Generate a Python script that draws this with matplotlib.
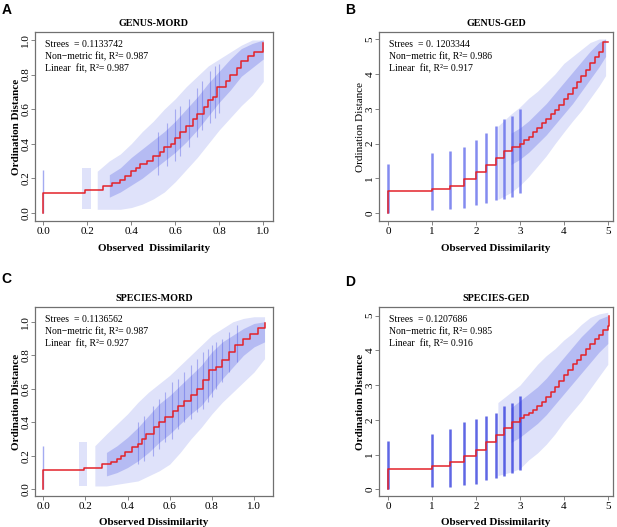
import matplotlib
matplotlib.use("Agg")
import matplotlib.pyplot as plt

plt.rcParams['font.family'] = ['Liberation Serif', 'DejaVu Serif']

# ---- panel A : GENUS-MORD ----
A_step_x = [0, 0.19, 0.27, 0.31, 0.35, 0.37, 0.40, 0.42, 0.44, 0.47, 0.50, 0.53, 0.55, 0.58, 0.60,
            0.62, 0.65, 0.68, 0.70, 0.73, 0.75, 0.77, 0.79, 0.83, 0.85, 0.88, 0.90, 0.93, 0.96, 1.00]
A_step_y = [0.115, 0.13, 0.155, 0.17, 0.19, 0.21, 0.24, 0.26, 0.28, 0.30, 0.33, 0.35, 0.38, 0.40, 0.43,
            0.47, 0.50, 0.54, 0.57, 0.61, 0.65, 0.67, 0.73, 0.76, 0.80, 0.84, 0.88, 0.91, 0.93, 0.98]
A_band_x = [0.245, 0.30, 0.35, 0.40, 0.45, 0.50, 0.55, 0.60, 0.65, 0.70, 0.75, 0.80, 0.85, 0.90, 0.95, 1.00]
A_band_lo = [0.02, 0.02, 0.02, 0.03, 0.05, 0.08, 0.12, 0.18, 0.25, 0.32, 0.40, 0.48, 0.55, 0.62, 0.68, 0.76]
A_band_hi = [0.24, 0.30, 0.34, 0.40, 0.47, 0.53, 0.60, 0.66, 0.73, 0.79, 0.85, 0.89, 0.93, 0.97, 1.00, 1.00]
A_core_x = [0.30, 0.35, 0.40, 0.45, 0.50, 0.55, 0.60, 0.65, 0.70, 0.75, 0.80, 0.85, 0.90, 0.95, 1.00]
A_core_lo = [0.09, 0.12, 0.16, 0.20, 0.25, 0.30, 0.35, 0.41, 0.48, 0.56, 0.64, 0.71, 0.79, 0.84, 0.89]
A_core_hi = [0.22, 0.26, 0.32, 0.37, 0.42, 0.47, 0.53, 0.60, 0.67, 0.75, 0.82, 0.89, 0.95, 0.98, 1.00]
A_clump_x = [0.175, 0.215]
A_clump_lo = [0.02, 0.02]
A_clump_hi = [0.26, 0.26]
A_zero_hi = 0.25
A_streak_x = [0.52, 0.56, 0.60, 0.62, 0.66, 0.70, 0.72, 0.76, 0.78, 0.80]
A_streak_lo = [0.22, 0.27, 0.30, 0.33, 0.38, 0.44, 0.48, 0.52, 0.55, 0.58]
A_streak_hi = [0.47, 0.52, 0.60, 0.62, 0.66, 0.72, 0.76, 0.82, 0.85, 0.86]
A_text = ["Strees  = 0.1133742", "Non\u2212metric fit, R\u00b2= 0.987", "Linear  fit, R\u00b2= 0.987"]

# ---- panel C : SPECIES-MORD ----
C_step_x = [0, 0.195, 0.255, 0.28, 0.32, 0.35, 0.37, 0.39, 0.42, 0.45, 0.47, 0.49, 0.525, 0.55, 0.58,
            0.615, 0.64, 0.67, 0.70, 0.73, 0.76, 0.785, 0.82, 0.85, 0.88, 0.91, 0.95, 0.98, 1.02, 1.05]
C_step_y = [0.113, 0.125, 0.13, 0.15, 0.165, 0.18, 0.20, 0.22, 0.25, 0.27, 0.30, 0.33, 0.37, 0.40, 0.43,
            0.47, 0.50, 0.53, 0.56, 0.60, 0.65, 0.71, 0.73, 0.77, 0.82, 0.86, 0.90, 0.93, 0.96, 0.99]
C_band_x = [0.245, 0.30, 0.35, 0.40, 0.45, 0.50, 0.55, 0.60, 0.65, 0.70, 0.75, 0.80, 0.85, 0.90, 0.95, 1.00, 1.05]
C_band_lo = [0.02, 0.02, 0.03, 0.04, 0.05, 0.08, 0.11, 0.15, 0.22, 0.30, 0.37, 0.45, 0.52, 0.58, 0.64, 0.70, 0.78]
C_band_hi = [0.26, 0.33, 0.39, 0.45, 0.52, 0.58, 0.63, 0.68, 0.74, 0.80, 0.86, 0.92, 0.96, 1.00, 1.02, 1.03, 1.03]
C_core_x = [0.30, 0.35, 0.40, 0.45, 0.50, 0.55, 0.60, 0.65, 0.70, 0.75, 0.80, 0.85, 0.90, 0.95, 1.00, 1.05]
C_core_lo = [0.08, 0.10, 0.13, 0.17, 0.22, 0.28, 0.33, 0.39, 0.45, 0.50, 0.58, 0.66, 0.73, 0.80, 0.85, 0.88]
C_core_hi = [0.22, 0.26, 0.31, 0.37, 0.44, 0.51, 0.56, 0.62, 0.68, 0.74, 0.82, 0.88, 0.92, 0.96, 0.99, 1.00]
C_clump_x = [0.17, 0.21]
C_clump_lo = [0.02, 0.02]
C_clump_hi = [0.28, 0.28]
C_zero_hi = 0.26
C_streak_x = [0.45, 0.48, 0.52, 0.55, 0.58, 0.61, 0.64, 0.67, 0.70, 0.73, 0.76, 0.78, 0.80, 0.82, 0.85, 0.88, 0.92]
C_streak_lo = [0.15, 0.17, 0.20, 0.24, 0.28, 0.30, 0.36, 0.40, 0.42, 0.46, 0.48, 0.52, 0.55, 0.60, 0.64, 0.70, 0.76]
C_streak_hi = [0.40, 0.44, 0.50, 0.54, 0.58, 0.64, 0.66, 0.70, 0.74, 0.78, 0.82, 0.84, 0.86, 0.88, 0.90, 0.94, 0.98]
C_text = ["Strees  = 0.1136562", "Non\u2212metric fit, R\u00b2= 0.987", "Linear  fit, R\u00b2= 0.927"]

# ---- panel B : GENUS-GED ----
B_step_x = [0, 1.0, 1.41, 1.73, 2.0, 2.24, 2.45, 2.65, 2.83, 3.0, 3.1, 3.2, 3.3, 3.4, 3.5,
            3.6, 3.7, 3.8, 3.9, 4.0, 4.1, 4.2, 4.3, 4.4, 4.5, 4.6, 4.7, 4.8, 4.89, 5.01]
B_step_y = [0.63, 0.70, 0.78, 0.99, 1.18, 1.39, 1.59, 1.78, 1.90, 2.0, 2.1, 2.2, 2.32, 2.45, 2.58,
            2.7, 2.84, 2.97, 3.12, 3.27, 3.43, 3.6, 3.78, 3.95, 4.12, 4.3, 4.48, 4.62, 4.91, 4.91]
B_stripe_x = [0, 1.0, 1.41, 1.73, 2.0, 2.24, 2.45, 2.65, 2.83, 3.0]
B_stripe_lo = [0.0, 0.1, 0.12, 0.14, 0.24, 0.3, 0.38, 0.42, 0.48, 0.57]
B_stripe_hi = [1.42, 1.72, 1.8, 1.9, 2.1, 2.3, 2.5, 2.7, 2.8, 3.0]
B_band_x = [2.5, 2.8, 3.0, 3.2, 3.4, 3.6, 3.8, 4.0, 4.2, 4.4, 4.6, 4.8, 4.95]
B_band_lo = [0.4, 0.6, 0.8, 1.05, 1.35, 1.65, 2.0, 2.33, 2.65, 2.95, 3.3, 3.65, 3.95]
B_band_hi = [2.5, 2.85, 3.05, 3.3, 3.5, 3.75, 4.0, 4.3, 4.5, 4.7, 4.9, 5.0, 5.0]
B_core_x = [2.8, 3.0, 3.2, 3.4, 3.6, 3.8, 4.0, 4.2, 4.4, 4.6, 4.8, 4.95]
B_core_lo = [1.4, 1.55, 1.75, 2.0, 2.25, 2.55, 2.85, 3.15, 3.5, 3.85, 4.2, 4.5]
B_core_hi = [2.3, 2.45, 2.65, 2.9, 3.15, 3.45, 3.75, 4.05, 4.35, 4.65, 4.9, 5.0]
B_text = ["Strees  = 0. 1203344", "Non\u2212metric fit, R\u00b2= 0.986", "Linear  fit, R\u00b2= 0.917"]

# ---- panel D : SPECIES-GED ----
D_step_x = [0, 1.0, 1.41, 1.73, 2.0, 2.24, 2.45, 2.65, 2.83, 3.0, 3.1, 3.2, 3.3, 3.4, 3.5, 3.6,
            3.7, 3.8, 3.9, 4.0, 4.1, 4.2, 4.3, 4.4, 4.5, 4.6, 4.7, 4.8, 4.9, 5.0, 5.02]
D_step_y = [0.59, 0.66, 0.79, 0.96, 1.14, 1.36, 1.58, 1.78, 1.94, 2.05, 2.13, 2.2, 2.3, 2.4, 2.52, 2.65,
            2.8, 2.96, 3.12, 3.28, 3.45, 3.6, 3.73, 3.88, 4.05, 4.2, 4.33, 4.45, 4.58, 4.7, 4.98]
D_stripe_x = [0, 1.0, 1.41, 1.73, 2.0, 2.24, 2.45, 2.65, 2.83, 3.0]
D_stripe_lo = [0.0, 0.07, 0.07, 0.12, 0.17, 0.27, 0.32, 0.4, 0.46, 0.55]
D_stripe_hi = [1.4, 1.6, 1.75, 1.95, 2.04, 2.1, 2.2, 2.4, 2.5, 2.7]
D_band_x = [2.5, 2.8, 3.0, 3.2, 3.4, 3.6, 3.8, 4.0, 4.2, 4.4, 4.6, 4.8, 5.0]
D_band_lo = [0.4, 0.5, 0.6, 0.85, 1.05, 1.3, 1.6, 1.95, 2.25, 2.55, 2.9, 3.25, 3.6]
D_band_hi = [2.5, 2.8, 3.0, 3.3, 3.6, 3.85, 4.05, 4.3, 4.5, 4.75, 4.95, 5.05, 5.1]
D_core_x = [2.8, 3.0, 3.2, 3.4, 3.6, 3.8, 4.0, 4.2, 4.4, 4.6, 4.8, 5.0]
D_core_lo = [1.35, 1.5, 1.7, 1.9, 2.15, 2.45, 2.75, 3.05, 3.35, 3.65, 3.95, 4.2]
D_core_hi = [2.35, 2.55, 2.75, 2.95, 3.2, 3.5, 3.8, 4.1, 4.4, 4.65, 4.9, 5.0]
D_text = ["Strees  = 0.1207686", "Non\u2212metric fit, R\u00b2= 0.985", "Linear  fit, R\u00b2= 0.916"]

mord_ticks = [0.0, 0.2, 0.4, 0.6, 0.8, 1.0]
ged_ticks = [0, 1, 2, 3, 4, 5]

RED = '#e3222a'
LIGHT = '#dfe2fa'
MID = '#a4abf1'
DARK = '#3c46e2'
FRAME = '#707070'


def style_axes(ax, title, ticks, ticklabels, xlabel, ylab_bold, xpad):
    ax.set_xticks(ticks)
    ax.set_xticklabels(ticklabels)
    ax.set_yticks(ticks)
    ax.set_yticklabels(ticklabels, rotation=90, va='center')
    ax.tick_params(length=3, width=0.6, color=FRAME, labelsize=8, pad=1.5)
    ax.tick_params(axis='y', pad=0.3)
    for sp in ax.spines.values():
        sp.set_color(FRAME)
        sp.set_linewidth(0.9)
    ax.set_title(title, fontsize=7.3, fontweight='bold', pad=4.5)
    ax.set_xlabel(xlabel, fontsize=8, fontweight='bold', labelpad=xpad)
    ax.set_ylabel('Ordination Distance', fontsize=8,
                  fontweight='bold' if ylab_bold else 'normal', labelpad=0.5)


def put_text(ax, lines):
    for i, s in enumerate(lines):
        ax.text(0.042, 0.935 - i * 0.065, s, transform=ax.transAxes,
                fontsize=7, va='center', ha='left')


def draw_mord(ax, step_x, step_y, band_x, band_lo, band_hi, core_x, core_lo, core_hi,
              clump_x, clump_lo, clump_hi, zero_hi, streak_x, streak_lo, streak_hi):
    ax.vlines([0], [0], [zero_hi], color=MID, lw=1.0, zorder=1)
    ax.fill_between(clump_x, clump_lo, clump_hi, color=LIGHT, lw=0, zorder=1)
    ax.fill_between(band_x, band_lo, band_hi, color=LIGHT, lw=0, zorder=1)
    ax.fill_between(core_x, core_lo, core_hi, color=MID, alpha=0.7, lw=0, zorder=2)
    ax.vlines(streak_x, streak_lo, streak_hi, color=DARK, lw=0.8, alpha=0.35, zorder=3)
    ax.step([0] + step_x, [0] + step_y, where='post', color=RED, lw=1.1, zorder=5)


def draw_ged(ax, step_x, step_y, stripe_x, stripe_lo, stripe_hi, band_x, band_lo, band_hi,
             core_x, core_lo, core_hi, stripe_color):
    ax.fill_between(band_x, band_lo, band_hi, color=LIGHT, lw=0, zorder=1)
    ax.fill_between(core_x, core_lo, core_hi, color=MID, alpha=0.7, lw=0, zorder=2)
    ax.vlines(stripe_x, stripe_lo, stripe_hi, color=stripe_color, lw=1.8, alpha=0.75, zorder=3)
    ax.step([0] + step_x, [0] + step_y, where='post', color=RED, lw=1.1, zorder=5)


fig = plt.figure(figsize=(6.17, 5.27), dpi=100)

axA = fig.add_axes([0.0567, 0.5806, 0.3857, 0.3586])
axB = fig.add_axes([0.6143, 0.5806, 0.3793, 0.3586])
axC = fig.add_axes([0.0567, 0.0588, 0.3857, 0.3586])
axD = fig.add_axes([0.6143, 0.0588, 0.3793, 0.3586])

draw_mord(axA, A_step_x, A_step_y, A_band_x, A_band_lo, A_band_hi, A_core_x, A_core_lo, A_core_hi,
          A_clump_x, A_clump_lo, A_clump_hi, A_zero_hi, A_streak_x, A_streak_lo, A_streak_hi)
axA.set_xlim(-0.038, 1.044)
axA.set_ylim(-0.048, 1.046)
style_axes(axA, 'GENUS-MORD', mord_ticks, ['%.1f' % t for t in mord_ticks],
           'Observed  Dissimilarity', True, 5.5)
put_text(axA, A_text)

draw_ged(axB, B_step_x, B_step_y, B_stripe_x, B_stripe_lo, B_stripe_hi, B_band_x, B_band_lo, B_band_hi,
         B_core_x, B_core_lo, B_core_hi, '#5a64ea')
axB.set_xlim(-0.205, 5.12)
axB.set_ylim(-0.22, 5.20)
style_axes(axB, 'GENUS-GED', ged_ticks, [str(t) for t in ged_ticks], 'Observed Dissimilarity', False, 5.5)
put_text(axB, B_text)

draw_mord(axC, C_step_x, C_step_y, C_band_x, C_band_lo, C_band_hi, C_core_x, C_core_lo, C_core_hi,
          C_clump_x, C_clump_lo, C_clump_hi, C_zero_hi, C_streak_x, C_streak_lo, C_streak_hi)
axC.set_xlim(-0.039, 1.09)
axC.set_ylim(-0.04, 1.088)
style_axes(axC, 'SPECIES-MORD', mord_ticks, ['%.1f' % t for t in mord_ticks],
           'Observed Dissimilarity', True, 4.5)
put_text(axC, C_text)

draw_ged(axD, D_step_x, D_step_y, D_stripe_x, D_stripe_lo, D_stripe_hi, D_band_x, D_band_lo, D_band_hi,
         D_core_x, D_core_lo, D_core_hi, '#2a34dc')
axD.set_xlim(-0.205, 5.12)
axD.set_ylim(-0.19, 5.25)
style_axes(axD, 'SPECIES-GED', ged_ticks, [str(t) for t in ged_ticks], 'Observed Dissimilarity', True, 4.5)
put_text(axD, D_text)

# panel letters
for lab, x, y in [('A', 0.002, 0.994), ('B', 0.559, 0.994), ('C', 0.002, 0.483), ('D', 0.559, 0.479)]:
    fig.text(x, y, lab, fontsize=10, fontweight='bold', family='Liberation Sans', va='top', ha='left')

fig.savefig('out.png', dpi=100)
